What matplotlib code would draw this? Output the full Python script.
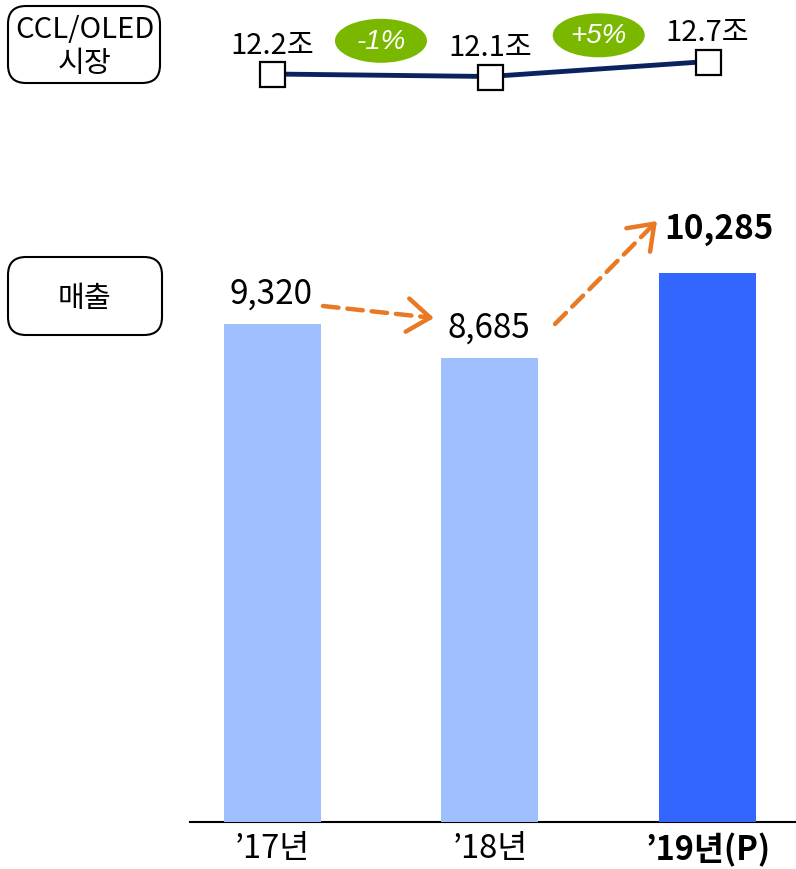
import numpy as np
import matplotlib.pyplot as plt
from matplotlib.patches import FancyBboxPatch, Ellipse
from matplotlib.transforms import blended_transform_factory

plt.rcParams['font.family'] = ['Noto Sans CJK KR', 'DejaVu Sans']

# data
years = ['’17년', '’18년', '’19년(P)']
sales = [9320, 8685, 10285]
market = [12.2, 12.1, 12.7]   # 조
projected = [False, False, True]

LIGHT = '#9fbfff'
DARK = '#3366ff'
NAVY = '#0c225e'
GREEN = '#7ab800'
ORANGE = '#e87a25'

W, H = 796, 870
fig = plt.figure(figsize=(W / 100, H / 100), dpi=100)

x = np.arange(len(years))
xlims = (-0.377, 2.406)

# bars
ax = fig.add_axes([190 / W, 1 - 823 / H, 606 / W, 623 / H])
colors = [DARK if p else LIGHT for p in projected]
ax.bar(x, sales, width=0.445, color=colors, zorder=3)
ax.set_xlim(*xlims)
ax.set_ylim(0, 11667)
for s in ['left', 'right', 'top']:
    ax.spines[s].set_visible(False)
ax.spines['bottom'].set_linewidth(1.5)
ax.set_yticks([])
ax.set_xticks(x, years, fontsize=23.5)
ax.tick_params(axis='x', length=0, pad=7)
for lab, p in zip(ax.get_xticklabels(), projected):
    if p:
        lab.set_fontweight(580)

for xi, v, p in zip(x, sales, projected):
    ax.annotate(f'{v:,}', xy=(xi, v), xytext=(8 if p else -1, 20 if p else 10),
                textcoords='offset points', ha='center', va='bottom', fontsize=24,
                fontweight=580 if p else 'normal')

# market line
ax2 = fig.add_axes([190 / W, 1 - 110 / H, 606 / W, 110 / H])
ax2.set_xlim(*xlims)
ax2.set_ylim(10.8, 15.2)
ax2.axis('off')
ax2.plot(x, market, color=NAVY, lw=3.5, marker='s', ms=18, mfc='white',
         mec='black', mew=1.6, clip_on=False, zorder=3)
for xi, v in zip(x, market):
    ax2.annotate(f'{v}조', xy=(xi, v), xytext=(0, 21), textcoords='offset points',
                 ha='center', va='center', fontsize=21)

tr = blended_transform_factory(ax2.transData, ax2.transAxes)
badge_y = [0.62, 0.67]
for i in range(len(market) - 1):
    pct = (market[i + 1] - market[i]) / market[i] * 100
    cx = (x[i] + x[i + 1]) / 2
    ax2.add_patch(Ellipse((cx, badge_y[i]), 0.4225, 0.4, transform=tr,
                          fc=GREEN, ec='none', clip_on=False))
    ax2.text(cx, badge_y[i], f'{pct:+.0f}%', transform=tr, ha='center', va='center',
             color='white', fontsize=20, style='italic', family='Liberation Sans')

# pixel-unit overlay for the side boxes and arrows
bg = fig.add_axes([0, 0, 1, 1], zorder=10)
bg.set_xlim(0, W)
bg.set_ylim(H, 0)
bg.axis('off')


def side_box(x0, y0, w, h):
    box = FancyBboxPatch((x0, y0), w, h, boxstyle='round,pad=0,rounding_size=18',
                         fc='white', ec='black', lw=1.5)
    bg.add_patch(box)


side_box(8, 7, 152, 77)
bg.text(85, 30, 'CCL/OLED', ha='center', va='center', fontsize=21)
bg.text(85, 64, '시장', ha='center', va='center', fontsize=21)
side_box(8, 258, 154, 78)
bg.text(85, 299, '매출', ha='center', va='center', fontsize=21)

# dashed trend arrows
arrows = [((323, 307), (434, 319)), ((555, 325), (657, 222))]
for (sx, sy), (ex, ey) in arrows:
    bg.annotate('', xy=(ex, ey), xytext=(sx, sy),
                arrowprops=dict(arrowstyle='-', color=ORANGE, lw=3.2,
                                ls=(0, (3.5, 2)), shrinkA=0, shrinkB=3))
    dx, dy = ex - sx, ey - sy
    n = np.hypot(dx, dy)
    bg.annotate('', xy=(ex, ey), xytext=(ex - dx / n * 8, ey - dy / n * 8),
                arrowprops=dict(arrowstyle='->,head_length=0.55,head_width=0.4',
                                color=ORANGE, lw=3.2, shrinkA=0, shrinkB=0,
                                mutation_scale=30))

fig.savefig('out.png', dpi=100)
